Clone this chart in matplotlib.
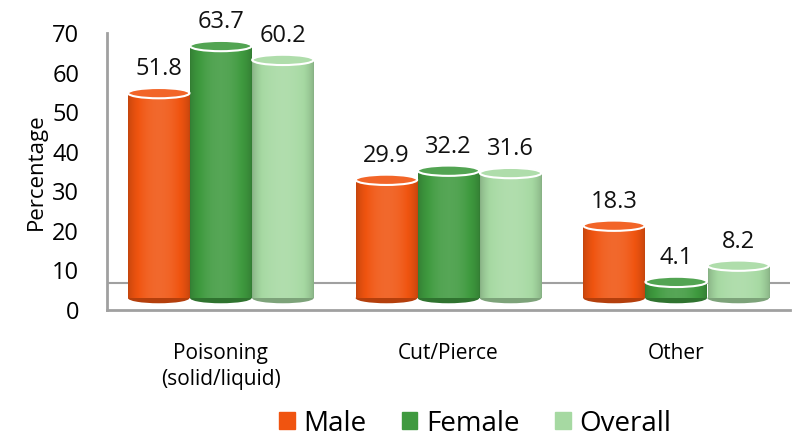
import numpy as np
import matplotlib.pyplot as plt
from matplotlib.patches import Ellipse, Rectangle
from matplotlib.colors import to_rgb

## data
categories = ["Poisoning\n(solid/liquid)", "Cut/Pierce", "Other"]
series = ["Male", "Female", "Overall"]
male = [51.8, 29.9, 18.3]
female = [63.7, 32.2, 4.1]
overall = [60.2, 31.6, 8.2]

colors = ["#f05410", "#3f9a3f", "#a6d9a2"]
base = 3.0      # 3D floor offset of the cylinders
bw = 0.27
ell_h = 2.6

plt.rcParams['font.family'] = ['Open Sans', 'DejaVu Sans']

fig = plt.figure(figsize=(7.92, 4.47), dpi=100)
ax = fig.add_axes([107/792, (447-310)/447, 683/792, 277/447])
ax.set_xlim(-0.5, 2.5)
ax.set_ylim(0, 70)


def shade(c, f):
    r = np.array(to_rgb(c))
    if f >= 0:
        return tuple(r + (1 - r) * f)
    return tuple(r * (1 + f))


def draw_cyl(x, val, col):
    top = base + val
    # bottom ellipse
    ax.add_patch(Ellipse((x, base), bw, ell_h, facecolor=shade(col, -0.25),
                         edgecolor='none', zorder=2))
    rect = Rectangle((x - bw/2, base), bw, val, facecolor=col, edgecolor='none', zorder=3)
    ax.add_patch(rect)
    # horizontal cylinder shading
    t = np.linspace(0, 1, 64)
    prof = 0.3 * np.sin(np.pi * t) ** 0.7 - 0.18
    img = np.array([[shade(col, p) for p in prof]])
    im = ax.imshow(img, extent=(x - bw/2, x + bw/2, base, top), aspect='auto',
                   zorder=3, interpolation='bilinear')
    im.set_clip_path(rect)
    ax.add_patch(Ellipse((x, top), bw, ell_h, facecolor=shade(col, 0.1),
                         edgecolor='white', lw=1.5, zorder=4))
    ax.annotate(f"{val:.1f}", (x, top + ell_h/2), xytext=(0, 5), textcoords='offset points',
                ha='center', va='bottom', fontsize=17, color='#111111', zorder=5)


x = np.arange(len(categories))
for i, vals in enumerate([male, female, overall]):
    for j, v in enumerate(vals):
        draw_cyl(x[j] + (i - 1) * bw * 1.01, v, colors[i])

# floor of the 3D box
ax.axhline(6.8, color='#a0a0a0', lw=1.5, zorder=1)

for s in ['top', 'right']:
    ax.spines[s].set_visible(False)
for s in ['left', 'bottom']:
    ax.spines[s].set_color('#a0a0a0')
    ax.spines[s].set_linewidth(2)

ax.set_yticks(range(0, 71, 10))
ax.tick_params(axis='y', length=0, pad=20, labelsize=17)
ax.set_xticks(x)
ax.set_xticklabels(categories, fontsize=15, linespacing=1.3)
ax.tick_params(axis='x', length=0, pad=24)
ax.set_ylabel("Percentage", fontsize=16, labelpad=4)

handles = [Rectangle((0, 0), 1, 1, color=c) for c in colors]
fig.legend(handles, series, loc='lower center', bbox_to_anchor=(0.6, -0.035), ncol=3,
           frameon=False, fontsize=20, handlelength=0.55, handleheight=0.55,
           handletextpad=0.3, columnspacing=1.3)

fig.savefig("out.png", dpi=100)
